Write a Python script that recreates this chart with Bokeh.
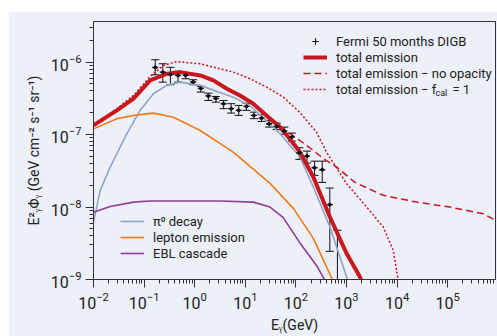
from bokeh.plotting import figure
from bokeh.models import (ColumnDataSource, Whisker, TeeHead, Legend, LegendItem,
                          FixedTicker, Label)
from bokeh.embed import file_html
from bokeh.resources import INLINE

# ---------------- data ----------------
E_fermi = [0.166, 0.234, 0.331, 0.468, 0.661, 0.933, 1.32, 1.86, 2.63, 3.72, 5.25, 7.41,
           10.5, 14.8, 20.9, 29.5, 41.7, 58.9, 83.2, 117, 166, 234, 331, 468, 661]
F_fermi = [8.45e-7, 7.27e-7, 6.76e-7, 6.56e-7, 6.56e-7, 5.33e-7, 4.34e-7, 3.42e-7, 3.16e-7,
           2.67e-7, 2.28e-7, 2.16e-7, 2.45e-7, 1.84e-7, 1.69e-7, 1.41e-7, 1.30e-7, 1.12e-7,
           9.24e-8, 5.62e-8, 5.05e-8, 3.49e-8, 3.28e-8, 1.08e-8, 2.5e-9]
F_fermi_up = [1.08e-6, 9.5e-7, 8.5e-7, 7.5e-7, 7.14e-7, 5.72e-7, 4.63e-7, 3.73e-7, 3.36e-7,
              2.96e-7, 2.67e-7, 2.53e-7, 2.72e-7, 2.04e-7, 1.88e-7, 1.57e-7, 1.44e-7, 1.27e-7,
              1.05e-7, 6.59e-8, 5.92e-8, 4.3e-8, 4.3e-8, 1.83e-8, 4.78e-9]
F_fermi_lo = [6.7e-7, 5.3e-7, 4.88e-7, 5.3e-7, 5.9e-7, 4.88e-7, 3.86e-7, 2.96e-7, 2.8e-7,
              2.28e-7, 1.98e-7, 1.84e-7, 2.16e-7, 1.66e-7, 1.52e-7, 1.27e-7, 1.17e-7, 1.01e-7,
              8.13e-8, 4.55e-8, 4.05e-8, 2.74e-8, 2.19e-8, 2.45e-9, 1e-10]

E_total = [0.01, 0.029, 0.0617, 0.1315, 0.281, 0.515, 1.29, 2.34, 4.31, 7.87, 14.4, 30.8,
           48.6, 76.6, 120, 221, 470, 1007, 1845, 2020]
F_total = [1.34e-7, 2.16e-7, 3.13e-7, 5.6e-7, 6.92e-7, 7.28e-7, 6.56e-7, 5.6e-7, 4.3e-7,
           3.47e-7, 2.67e-7, 1.66e-7, 1.27e-7, 8.6e-8, 5.74e-8, 2.6e-8, 7.28e-9, 2.28e-9,
           1.08e-9, 9.1e-10]

E_noop = [0.01, 0.029, 0.0617, 0.1315, 0.281, 0.515, 1.29, 2.34, 4.31, 7.87, 14.4, 30.8,
          48.6, 94, 221, 348, 640, 1469, 5320, 24300, 1.1e5, 5.0e5, 8.8e5]
F_noop = [1.34e-7, 2.16e-7, 3.13e-7, 5.6e-7, 6.92e-7, 7.28e-7, 6.56e-7, 5.6e-7, 4.3e-7,
          3.47e-7, 2.67e-7, 1.66e-7, 1.27e-7, 9.4e-8, 6.05e-8, 4.66e-8, 3.56e-8, 2.19e-8,
          1.45e-8, 1.17e-8, 1.0e-8, 8.1e-9, 6.56e-9]

E_fcal = [0.01, 0.029, 0.0617, 0.1315, 0.241, 0.444, 1.28, 5.8, 12.4, 26.5, 56.4, 120, 258,
          405, 1007, 2210, 5320, 8380, 9770, 10500]
F_fcal = [1.34e-7, 2.29e-7, 3.47e-7, 6.35e-7, 9.0e-7, 1.02e-6, 9.5e-7, 7.28e-7, 5.9e-7,
          4.52e-7, 3.29e-7, 2.02e-7, 1.07e-7, 5.68e-8, 2.1e-8, 1.11e-8, 5.3e-9, 2.53e-9,
          1.34e-9, 9.8e-10]

E_pi0 = [0.01, 0.01355, 0.0214, 0.0456, 0.0836, 0.153, 0.281, 0.515, 1.28, 5.8, 12.4, 30.8,
         48.6, 120, 221, 470, 1007, 1070]
F_pi0 = [6.15e-9, 1.7e-8, 3.56e-8, 1.03e-7, 2.16e-7, 3.66e-7, 4.78e-7, 5.3e-7, 4.78e-7,
         3.29e-7, 2.5e-7, 1.41e-7, 1.03e-7, 4.9e-8, 1.89e-8, 5.3e-9, 1.08e-9, 9.1e-10]

E_lep = [0.01, 0.029, 0.0617, 0.153, 0.38, 1.28, 5.8, 12.4, 30.8, 88.9, 221, 516, 553]
F_lep = [1.2e-7, 1.66e-7, 1.84e-7, 1.98e-7, 1.74e-7, 1.14e-7, 5.74e-8, 3.64e-8, 2.12e-8,
         9.6e-9, 3.7e-9, 1.03e-9, 9.1e-10]

E_ebl = [0.01, 0.0214, 0.0617, 0.1315, 3.17, 14.4, 30.8, 55.6, 120, 258, 359, 376]
F_ebl = [8.5e-9, 1.02e-8, 1.17e-8, 1.21e-8, 1.21e-8, 1.17e-8, 1.0e-8, 7.2e-9, 3.2e-9,
         1.55e-9, 1.03e-9, 9.1e-10]

x_major = [1e-2, 1e-1, 1e0, 1e1, 1e2, 1e3, 1e4, 1e5]
y_major = [1e-9, 1e-8, 1e-7, 1e-6]

# ---------------- style ----------------
BG = "#edeff9"
RED = "#c8171e"
BLUE = "#8fa4c2"
ORANGE = "#f27a1a"
PURPLE = "#903c98"
FONT = "Roboto"

p = figure(width=489, height=325, x_axis_type="log", y_axis_type="log",
           x_range=(1e-2, 8.8e5), y_range=(1e-9, 3.64e-6),
           output_backend="svg", toolbar_location=None,
           min_border_left=85, min_border_right=2, min_border_top=10, min_border_bottom=57)
p.margin = (11, 0, 0, 8)
p.background_fill_color = BG
p.border_fill_color = BG
p.outline_line_color = "#333333"
p.grid.visible = False

minor_x = [m * 10.0 ** k for k in range(-2, 6) for m in range(2, 10)]
minor_y = [m * 10.0 ** k for k in range(-10, -5) for m in range(2, 10)]
p.xaxis.ticker = FixedTicker(ticks=x_major, minor_ticks=minor_x)
p.yaxis.ticker = FixedTicker(ticks=y_major, minor_ticks=minor_y)
for ax in (p.xaxis, p.yaxis):
    ax.axis_line_color = "#333333"
    ax.major_tick_line_color = "#333333"
    ax.minor_tick_line_color = "#333333"
    ax.major_tick_in = 0
    ax.major_tick_out = 8
    ax.minor_tick_in = 0
    ax.minor_tick_out = 4
    ax.major_label_text_font = FONT
    ax.major_label_text_font_size = "16px"
    ax.major_label_text_color = "#222222"
    ax.axis_label_text_font = FONT
    ax.axis_label_text_font_size = "14px"
    ax.axis_label_text_font_style = "normal"
    ax.axis_label_text_color = "#222222"
p.xaxis.axis_label = "E\u1d67(GeV)"
p.yaxis.axis_label = "E\u00b2\u1d67\u03a6\u1d67 (GeV cm\u207b\u00b2 s\u207b\u00b9 sr\u207b\u00b9)"
p.xaxis.major_label_standoff = 4
p.yaxis.major_label_standoff = 4
p.yaxis.axis_label_standoff = 6

# ---------------- curves ----------------
r_pi0 = p.line(E_pi0, F_pi0, line_color=BLUE, line_width=1.6)
r_lep = p.line(E_lep, F_lep, line_color=ORANGE, line_width=1.6)
r_ebl = p.line(E_ebl, F_ebl, line_color=PURPLE, line_width=1.6)
r_fcal = p.line(E_fcal, F_fcal, line_color=RED, line_width=1.5, line_dash="2 2")
r_noop = p.line(E_noop, F_noop, line_color=RED, line_width=1.5, line_dash="7 4")
r_tot = p.line(E_total, F_total, line_color=RED, line_width=4)

# ---------------- data points ----------------
src_main = ColumnDataSource(dict(x=E_fermi[:-1], y=F_fermi[:-1],
                                 up=F_fermi_up[:-1], lo=F_fermi_lo[:-1]))
src_last = ColumnDataSource(dict(x=E_fermi[-1:], y=F_fermi[-1:],
                                 up=F_fermi_up[-1:], lo=F_fermi_lo[-1:]))
p.add_layout(Whisker(source=src_main, base="x", upper="up", lower="lo",
                     line_color="#111111", line_width=1,
                     upper_head=TeeHead(size=8, line_color="#111111", line_width=1),
                     lower_head=TeeHead(size=8, line_color="#111111", line_width=1)))
p.add_layout(Whisker(source=src_last, base="x", upper="up", lower="lo",
                     line_color="#111111", line_width=1,
                     upper_head=TeeHead(size=8, line_color="#111111", line_width=1),
                     lower_head=None))
r_pd = p.scatter("x", "y", source=src_main, marker="dash", size=6, line_color="#111111",
                 line_width=1.4)
r_pc = p.scatter("x", "y", source=src_main, marker="circle", size=3, fill_color="#111111",
                 line_color="#111111")

# legend proxy for the error-bar symbol (not drawn in the plot)
proxy = ColumnDataSource(dict(x=[float("nan")], y=[float("nan")]))
r_bar = p.scatter("x", "y", source=proxy, marker="cross", size=13,
                  line_color="#111111", line_width=1.1)

leg_top = Legend(items=[
    LegendItem(label="Fermi 50 months DIGB", renderers=[r_bar]),
    LegendItem(label="total emission", renderers=[r_tot]),
    LegendItem(label="total emission \u2212 no opacity", renderers=[r_noop]),
    LegendItem(label="total emission \u2212 f     = 1", renderers=[r_fcal]),
], location=(210, 182))
leg_bot = Legend(items=[
    LegendItem(label="\u03c0\u2070 decay", renderers=[r_pi0]),
    LegendItem(label="lepton emission", renderers=[r_lep]),
    LegendItem(label="EBL cascade", renderers=[r_ebl]),
], location=(27, 18))
for lg in (leg_top, leg_bot):
    lg.background_fill_alpha = 0
    lg.border_line_alpha = 0
    lg.padding = 0
    lg.margin = 0
    lg.spacing = 0
    lg.label_height = 16
    lg.glyph_height = 16
    lg.glyph_width = 24
    lg.label_standoff = 9
    lg.label_text_font = FONT
    lg.label_text_font_size = "13px"
    lg.label_text_color = "#222222"
    p.add_layout(lg)

p.add_layout(Label(x=342, y=182, x_units="screen", y_units="screen", text="cal",
                   text_font=FONT, text_font_size="9px", text_color="#222222"))

open("out.html", "w").write(file_html(p, INLINE))
